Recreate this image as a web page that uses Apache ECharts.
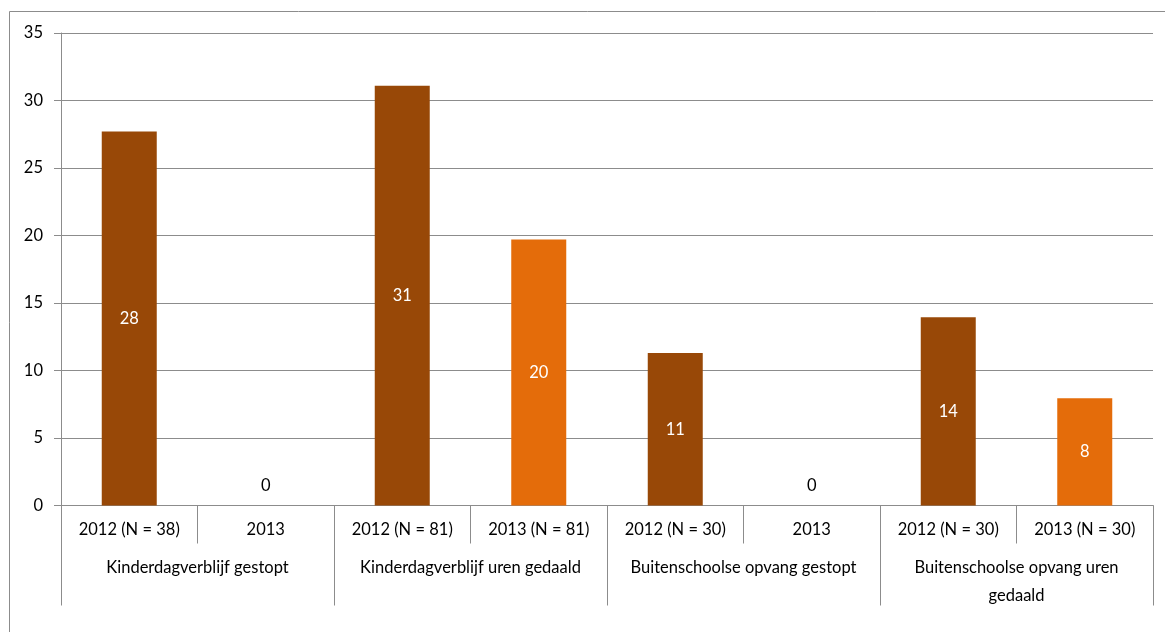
<!DOCTYPE html>
<html>
<head>
<meta charset="utf-8">
<script src="https://cdn.jsdelivr.net/npm/echarts@6/dist/echarts.min.js"></script>
<style>
  html, body { margin: 0; padding: 0; background: #fff; }
  #chart { width: 1165px; height: 632px; }
</style>
</head>
<body>
<div id="chart"></div>
<script>
// jaar-labels (eerste niveau van de as)
const years = ['2012 (N = 38)', '2013', '2012 (N = 81)', '2013 (N = 81)', '2012 (N = 30)', '2013', '2012 (N = 30)', '2013 (N = 30)']
// groepen (tweede niveau)
const groups = ['Kinderdagverblijf gestopt', 'Kinderdagverblijf uren gedaald', 'Buitenschoolse opvang gestopt', 'Buitenschoolse opvang uren\ngedaald']
const values = [27.7, 0, 31.1, 19.7, 11.3, 0, 13.95, 7.95]
const isYear2013 = [false, true, false, true, false, true, false, true]
const yTicks = { min: 0, max: 35, interval: 5 }

const DARK = '#984807'
const ORANGE = '#E46C0A'
const GRID = '#8c8c8c'
const FONT = 'Lato'
const FS = 16.5

const chart = echarts.init(document.getElementById('chart'))

const barData = values.map((v, i) => ({
  value: v,
  itemStyle: { color: isYear2013[i] ? ORANGE : DARK },
  label: v === 0
    ? { position: 'insideBottom', distance: 11, color: '#000' }
    : { position: 'inside', color: '#fff' },
}))

chart.setOption({
  backgroundColor: '#fff',
  animation: false,
  textStyle: { fontFamily: FONT },
  graphic: [
    {
      type: 'rect',
      shape: { x: 9.5, y: 11.5, width: 1300, height: 800 },
      style: { fill: 'none', stroke: '#8c8c8c', lineWidth: 1 },
      silent: true,
      z: -1,
    },
  ],
  grid: { left: 61, right: 12, top: 33, bottom: 126.5 },
  xAxis: [
    {
      type: 'category',
      data: years,
      position: 'bottom',
      axisLine: { lineStyle: { color: GRID } },
      axisTick: { show: true, length: 38, alignWithLabel: false, lineStyle: { color: GRID } },
      axisLabel: { color: '#000', fontSize: FS, fontFamily: FONT, margin: 16, interval: 0 },
      splitLine: { show: false },
    },
    {
      type: 'category',
      data: groups,
      position: 'bottom',
      axisLine: { show: false },
      axisTick: { show: true, length: 100, alignWithLabel: false, lineStyle: { color: GRID } },
      axisLabel: { color: '#000', fontSize: FS, fontFamily: FONT, margin: 48, interval: 0, lineHeight: 28 },
      splitLine: { show: false },
    },
  ],
  yAxis: {
    type: 'value',
    min: yTicks.min,
    max: yTicks.max,
    interval: yTicks.interval,
    axisLine: { show: true, lineStyle: { color: GRID } },
    axisTick: { show: true, length: 7, lineStyle: { color: GRID } },
    axisLabel: { color: '#000', fontSize: FS, fontFamily: FONT, margin: 18 },
    splitLine: { lineStyle: { color: GRID } },
  },
  series: [
    {
      type: 'bar',
      xAxisIndex: 0,
      barWidth: 55,
      data: barData,
      label: {
        show: true,
        fontSize: FS,
        fontFamily: FONT,
        formatter: p => Math.round(p.value),
      },
    },
  ],
})
</script>
</body>
</html>
